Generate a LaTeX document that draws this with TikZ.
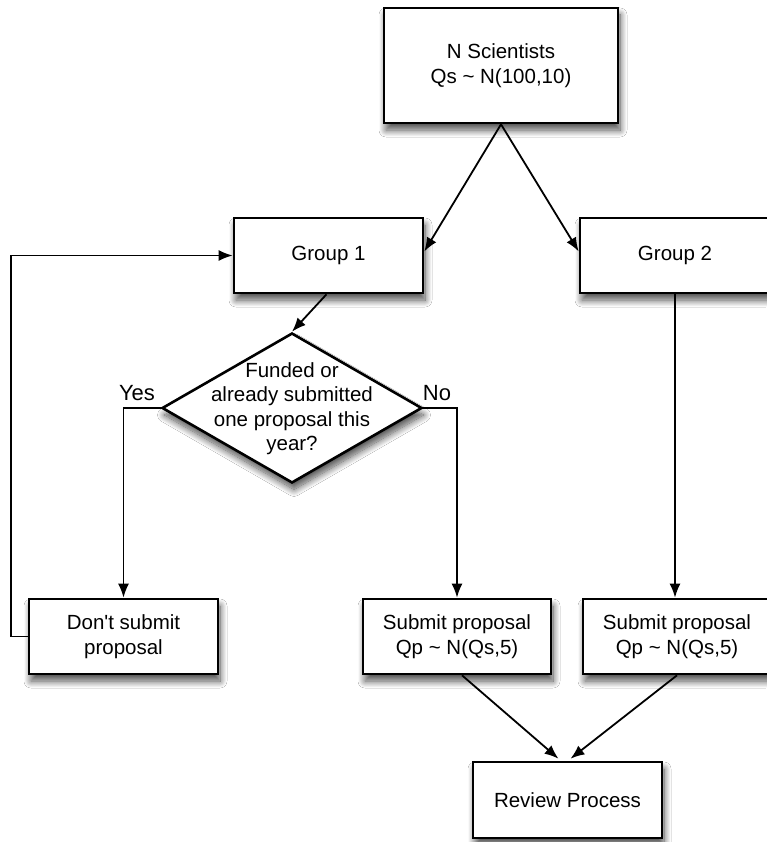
\documentclass[tikz,border=0pt]{standalone}
\usepackage{fontspec}
\setmainfont{Liberation Sans}
\usetikzlibrary{arrows.meta,shapes.geometric,shadows.blur}
\begin{document}
\begin{tikzpicture}[x=1pt,y=-1pt,
  boxshadow/.style={blur shadow={shadow xshift=2pt,shadow yshift=-7pt,shadow blur radius=7pt,shadow blur steps=14,shadow opacity=70}},
  flowbox/.style={draw=black,line width=2.6pt,fill=white,rectangle,minimum width=189pt,minimum height=75pt,inner sep=0pt,align=center,font=\fontsize{20.5}{25}\selectfont,boxshadow},
  decision/.style={draw=black,line width=2.6pt,fill=white,diamond,minimum width=260pt,minimum height=150pt,inner sep=0pt,boxshadow},
  decisiontext/.style={align=center,font=\fontsize{20.5}{24.5}\selectfont,inner sep=0pt},
  answer/.style={font=\fontsize{22}{26}\selectfont,inner sep=0pt},
  arr/.style={line width=1.8pt,-{Latex[length=14pt,width=11pt]}},
]
\useasboundingbox (0,0) rectangle (766,842);
\fill[white] (0,0) rectangle (766,842);

\node[flowbox,minimum width=234pt,minimum height=115pt] (top) at (501,65.5) {N Scientists\\Qs \textasciitilde\ N(100,10)};
\node[flowbox] (g1) at (328.5,255.5) {Group 1};
\node[flowbox,minimum width=190pt] (g2) at (675,255.5) {Group 2};
\node[decision] (dia) at (292,408) {};
\node[decisiontext] (diatext) at (292,408.5) {Funded or\\already submitted\\one proposal this\\year?};
\node[flowbox] (dont) at (123.5,636.5) {Don\textquotesingle t submit\\proposal};
\node[flowbox,minimum width=188pt] (sub1) at (457,636.5) {Submit proposal\\Qp \textasciitilde\ N(Qs,5)};
\node[flowbox,minimum width=188pt] (sub2) at (677,636.5) {Submit proposal\\Qp \textasciitilde\ N(Qs,5)};
\node[flowbox,minimum height=76pt] (rev) at (567.5,800) {Review Process};

\node[answer] (yes) at (137,393) {Yes};
\node[answer] (no) at (437,393) {No};

\draw[arr] (top.south) -- ([yshift=4pt]g1.east);
\draw[arr] (top.south) -- ([yshift=4pt]g2.west);
\draw[arr] ([xshift=-2pt]g1.south) -- (dia.north);
\draw[arr] (dia.west) -| (dont.north);
\draw[arr] (dia.east) -| (sub1.north);
\draw[arr] (g2.south) -- (g2.south |- sub2.north);
\draw[arr] (dont.west) -- ++(-17,0) |- (g1.west);
\draw[arr] ([xshift=5pt]sub1.south) -- ([xshift=-9pt,yshift=2pt]rev.north);
\draw[arr] (sub2.south) -- ([xshift=3pt,yshift=2pt]rev.north);
\end{tikzpicture}
\end{document}
